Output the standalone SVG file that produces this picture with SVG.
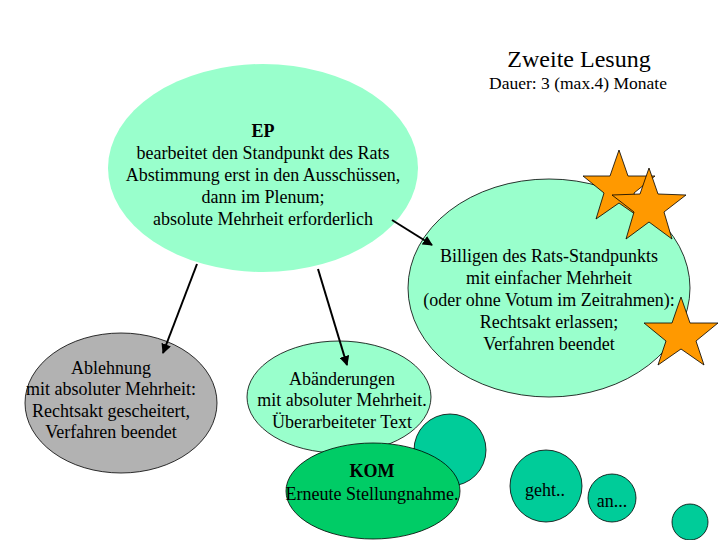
<svg xmlns="http://www.w3.org/2000/svg" width="720" height="540" viewBox="0 0 720 540">
<defs>
<style>
.t{font-family:"Liberation Serif","Times New Roman",serif;font-size:18px;fill:#000;text-anchor:middle;}
.b{font-weight:bold;}
.ln{stroke:#000;stroke-width:0.8;}
.star{fill:#FF9900;stroke:#000;stroke-width:0.8;}
.con{stroke:#000;stroke-width:2;fill:none;marker-end:url(#ah);}
</style>
<marker id="ah" viewBox="0 0 10 10" refX="9" refY="5" markerWidth="5" markerHeight="5" orient="auto">
<path d="M0,0 L10,5 L0,10 z" fill="#000"/>
</marker>
</defs>
<rect width="720" height="540" fill="#fff"/>
<g id="title">
<text class="t" x="579" y="67" style="font-size:24px">Zweite Lesung</text>
<text class="t" x="578" y="89" style="font-size:17.5px">Dauer: 3 (max.4) Monate</text>
</g>
<g id="ep">
<ellipse cx="263" cy="168" rx="155" ry="104" fill="#99FFCC"/>
<text class="t b" x="263" y="137">EP</text>
<text class="t" x="263" y="159">bearbeitet den Standpunkt des Rats</text>
<text class="t" x="263" y="181">Abstimmung erst in den Ausschüssen,</text>
<text class="t" x="263" y="203">dann im Plenum;</text>
<text class="t" x="263" y="225">absolute Mehrheit erforderlich</text>
</g>
<g id="billigen">
<ellipse cx="549" cy="288" rx="141" ry="109" fill="#99FFCC" class="ln"/>
<text class="t" x="549" y="262">Billigen des Rats-Standpunkts</text>
<text class="t" x="549" y="284">mit einfacher Mehrheit</text>
<text class="t" x="549" y="306">(oder ohne Votum im Zeitrahmen):</text>
<text class="t" x="549" y="328">Rechtsakt erlassen;</text>
<text class="t" x="549" y="350">Verfahren beendet</text>
</g>
<g id="stars">
<polygon class="star" points="619,150 628,176 655,176 634,193 642,219 619,203 596,219 604,193 583,176 610,176"/>
<polygon class="star" points="649,168 658,194 686,195 664,212 672,239 649,222 626,239 634,212 612,195 640,194"/>
<polygon class="star" points="681,297 690,323 718,323 696,341 704,365 681,349 658,365 666,341 644,323 672,323"/>
</g>
<g id="ablehnung">
<ellipse cx="121" cy="403" rx="96" ry="70" fill="#B2B2B2" class="ln"/>
<text class="t" x="111" y="374">Ablehnung</text>
<text class="t" x="111" y="395">mit absoluter Mehrheit:</text>
<text class="t" x="111" y="417">Rechtsakt gescheitert,</text>
<text class="t" x="111" y="438">Verfahren beendet</text>
</g>
<g id="abaenderungen">
<ellipse cx="339" cy="397" rx="92" ry="56" fill="#99FFCC" class="ln"/>
<text class="t" x="342" y="385">Abänderungen</text>
<text class="t" x="342" y="406">mit absoluter Mehrheit.</text>
<text class="t" x="342" y="428">Überarbeiteter Text</text>
</g>
<g id="circle1">
<circle cx="450" cy="450" r="36" fill="#00CC99" class="ln"/>
</g>
<g id="kom">
<ellipse cx="373" cy="491" rx="87" ry="48" fill="#00CC66" class="ln"/>
<text class="t b" x="372" y="477">KOM</text>
<text class="t" x="372" y="500">Erneute Stellungnahme.</text>
</g>
<g id="geht">
<circle cx="546" cy="486" r="36" fill="#00CC99" class="ln"/>
<text class="t" x="545" y="496">geht..</text>
</g>
<g id="an">
<circle cx="612" cy="498" r="24" fill="#00CC99" class="ln"/>
<text class="t" x="612" y="507">an...</text>
</g>
<g id="circle4">
<circle cx="690" cy="522" r="18" fill="#00CC99" class="ln"/>
</g>
<g id="connectors">
<line class="con" x1="392" y1="220" x2="432" y2="245"/>
<line class="con" x1="197" y1="264" x2="163" y2="353"/>
<line class="con" x1="318" y1="269" x2="347" y2="365"/>
</g>
</svg>
